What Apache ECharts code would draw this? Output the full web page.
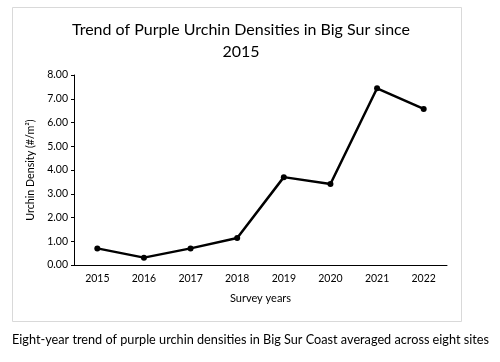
<!DOCTYPE html>
<html>
<head>
<meta charset="utf-8">
<script src="https://cdn.jsdelivr.net/npm/echarts@6/dist/echarts.min.js"></script>
<style>
html,body{margin:0;padding:0;background:#fff;}
#c{width:500px;height:362px;}
</style>
</head>
<body>
<div id="c"></div>
<script>
const years = ['2015','2016','2017','2018','2019','2020','2021','2022'];
const densities = [0.70, 0.31, 0.70, 1.14, 3.70, 3.41, 7.44, 6.57];
const titleText = 'Trend of Purple Urchin Densities in Big Sur since\n2015';
const captionText = 'Eight-year trend of purple urchin densities in Big Sur Coast averaged across eight sites';
const yAxisName = 'Urchin Density (#/m²)';
const xAxisName = 'Survey years';

const FONT = 'Lato';
const chart = echarts.init(document.getElementById('c'), null, {renderer:'canvas'});
chart.setOption({
  backgroundColor: '#fff',
  animation: false,
  graphic: [
    {type:'rect', shape:{x:12.5, y:7.5, width:449, height:314}, style:{fill:'#fff', stroke:'#d9d9d9', lineWidth:1}, z:-10},
    {type:'text', left:12, top:333, style:{text:captionText, font:'12.7px ' + FONT, fill:'#000'}}
  ],
  title: {
    text: titleText,
    left: 236, top: 14, textAlign: 'center',
    textStyle: {fontFamily: FONT, fontSize: 16, fontWeight: 'normal', color: '#000', lineHeight: 22}
  },
  grid: {left: 74, right: 53, top: 75, bottom: 97, containLabel: false},
  xAxis: {
    type: 'category', data: years, boundaryGap: true,
    name: xAxisName, nameLocation: 'middle', nameGap: 28,
    nameTextStyle: {fontFamily: FONT, fontSize: 11, color: '#000'},
    axisLine: {lineStyle: {color: '#000', width: 1}},
    axisTick: {show: false},
    axisLabel: {fontFamily: FONT, fontSize: 10.5, color: '#000', margin: 8}
  },
  yAxis: {
    type: 'value', min: 0, max: 8, interval: 1,
    name: yAxisName, nameLocation: 'middle', nameGap: 34, nameRotate: 90,
    nameTextStyle: {fontFamily: FONT, fontSize: 10.7, color: '#000'},
    axisLine: {show: true, lineStyle: {color: '#000', width: 1}},
    axisTick: {show: true, length: 3, lineStyle: {color: '#000'}},
    splitLine: {show: false},
    axisLabel: {fontFamily: FONT, fontSize: 10.5, color: '#000', margin: 6, formatter: v => v.toFixed(2)}
  },
  series: [{
    type: 'line', data: densities,
    symbol: 'circle', symbolSize: 6,
    lineStyle: {color: '#000', width: 2.5},
    itemStyle: {color: '#000'}
  }]
});
</script>
</body>
</html>
